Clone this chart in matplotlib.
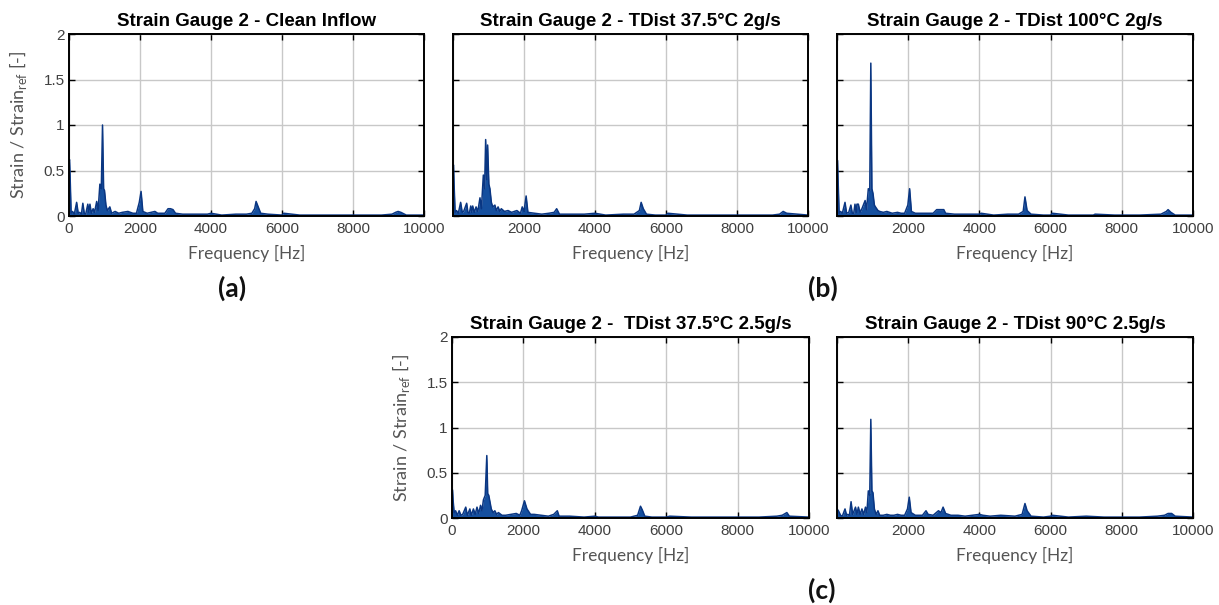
import numpy as np
import matplotlib
matplotlib.use("Agg")
import matplotlib.pyplot as plt

# --- spectra (frequency in Hz, normalised strain) ---
f_clean = [0, 15, 30, 60, 100, 150, 215, 260, 300, 350, 390, 430, 470, 530, 560, 590, 630, 680, 720,
           780, 820, 870, 910, 944, 975, 1000, 1040, 1080, 1150, 1200, 1300, 1400, 1500, 1660, 1800,
           1900, 1980, 2030, 2080, 2200, 2420, 2500, 2700, 2790, 2860, 2930, 3000, 3200, 3500, 3900,
           4000, 4300, 4700, 5000, 5150, 5230, 5270, 5330, 5400, 5600, 6000, 6050, 6500, 7000, 7600,
           8200, 8800, 9100, 9200, 9270, 9350, 9500, 10000]
a_clean = [0.60, 0.62, 0.45, 0.03, 0.05, 0.02, 0.15, 0.03, 0.04, 0.02, 0.14, 0.03, 0.02, 0.13, 0.04,
           0.13, 0.03, 0.08, 0.04, 0.16, 0.06, 0.35, 0.30, 1.00, 0.30, 0.28, 0.12, 0.06, 0.10, 0.03,
           0.05, 0.03, 0.04, 0.05, 0.03, 0.03, 0.15, 0.27, 0.05, 0.03, 0.05, 0.03, 0.03, 0.08, 0.08,
           0.07, 0.03, 0.02, 0.02, 0.02, 0.03, 0.01, 0.02, 0.02, 0.03, 0.08, 0.16, 0.10, 0.03, 0.02,
           0.01, 0.03, 0.01, 0.01, 0.01, 0.01, 0.01, 0.02, 0.04, 0.05, 0.04, 0.01, 0.01]

f_t375_2 = [0, 15, 30, 60, 100, 150, 215, 260, 300, 385, 420, 460, 500, 530, 555, 600, 650, 700, 760,
            800, 855, 890, 920, 950, 975, 1010, 1040, 1080, 1120, 1180, 1220, 1270, 1320, 1360, 1450,
            1550, 1650, 1800, 1900, 1950, 2000, 2060, 2110, 2300, 2500, 2700, 2850, 2920, 3000, 3300,
            3700, 4000, 4300, 4800, 5100, 5250, 5300, 5360, 5450, 5700, 6000, 6050, 6600, 7200, 7800,
            8400, 9000, 9200, 9300, 9400, 10000]
a_t375_2 = [0.55, 0.56, 0.35, 0.04, 0.06, 0.03, 0.15, 0.04, 0.05, 0.14, 0.04, 0.03, 0.11, 0.04, 0.11,
            0.04, 0.10, 0.05, 0.20, 0.08, 0.45, 0.30, 0.84, 0.40, 0.78, 0.35, 0.30, 0.15, 0.10, 0.12,
            0.06, 0.10, 0.05, 0.08, 0.05, 0.06, 0.04, 0.06, 0.03, 0.10, 0.05, 0.22, 0.04, 0.03, 0.02,
            0.03, 0.04, 0.08, 0.02, 0.02, 0.02, 0.03, 0.01, 0.02, 0.02, 0.06, 0.15, 0.08, 0.02, 0.01,
            0.01, 0.03, 0.01, 0.01, 0.01, 0.01, 0.01, 0.02, 0.05, 0.03, 0.01]

f_t100_2 = [0, 15, 30, 60, 100, 150, 225, 270, 330, 390, 430, 470, 505, 540, 560, 600, 650, 700, 790,
            830, 880, 920, 950, 980, 1010, 1050, 1080, 1150, 1200, 1300, 1400, 1550, 1700, 1800, 1900,
            1990, 2040, 2090, 2200, 2500, 2700, 2800, 2870, 3000, 3050, 3300, 3700, 4000, 4050, 4400,
            4800, 5100, 5230, 5280, 5340, 5450, 5800, 6000, 6050, 6500, 7200, 7250, 7800, 8500, 9100,
            9250, 9300, 9380, 9500, 10000]
a_t100_2 = [0.60, 0.61, 0.40, 0.03, 0.05, 0.03, 0.15, 0.03, 0.04, 0.12, 0.03, 0.03, 0.13, 0.04, 0.13,
            0.13, 0.04, 0.08, 0.17, 0.07, 0.30, 0.28, 1.68, 0.30, 0.25, 0.12, 0.10, 0.06, 0.05, 0.04,
            0.05, 0.03, 0.04, 0.03, 0.03, 0.12, 0.30, 0.05, 0.03, 0.03, 0.03, 0.07, 0.07, 0.07, 0.03,
            0.02, 0.02, 0.02, 0.03, 0.01, 0.02, 0.02, 0.05, 0.21, 0.06, 0.02, 0.01, 0.01, 0.03, 0.01,
            0.01, 0.02, 0.01, 0.01, 0.02, 0.05, 0.07, 0.04, 0.01, 0.01]

f_t375_25 = [0, 15, 30, 60, 100, 150, 200, 250, 300, 385, 430, 500, 540, 600, 650, 700, 750, 800,
             840, 880, 930, 975, 1000, 1030, 1100, 1150, 1200, 1250, 1300, 1400, 1500, 1650, 1800,
             1900, 1950, 2030, 2100, 2200, 2300, 2500, 2700, 2850, 2950, 3000, 3300, 3700, 4000, 4100,
             4500, 5000, 5200, 5280, 5330, 5400, 5600, 6000, 6100, 6700, 7300, 8000, 8600, 9100, 9250,
             9380, 9450, 10000]
a_t375_25 = [0.31, 0.31, 0.20, 0.06, 0.08, 0.03, 0.08, 0.03, 0.04, 0.12, 0.03, 0.10, 0.03, 0.10, 0.04,
             0.12, 0.05, 0.14, 0.08, 0.20, 0.25, 0.69, 0.27, 0.25, 0.10, 0.06, 0.08, 0.04, 0.06, 0.03,
             0.03, 0.04, 0.05, 0.03, 0.08, 0.19, 0.10, 0.04, 0.04, 0.03, 0.02, 0.04, 0.08, 0.02, 0.02,
             0.01, 0.02, 0.01, 0.01, 0.01, 0.03, 0.13, 0.09, 0.02, 0.01, 0.01, 0.02, 0.01, 0.01, 0.01,
             0.01, 0.02, 0.03, 0.06, 0.02, 0.01]

f_t90_25 = [0, 40, 100, 150, 225, 270, 300, 350, 395, 440, 520, 560, 600, 650, 700, 750, 800, 840,
            880, 920, 950, 980, 1010, 1050, 1100, 1150, 1200, 1300, 1400, 1500, 1600, 1700, 1800, 1900,
            1980, 2030, 2080, 2200, 2400, 2500, 2560, 2700, 2850, 2920, 2980, 3050, 3200, 3400, 3600,
            3800, 4000, 4100, 4300, 4600, 5000, 5200, 5280, 5340, 5450, 5800, 6000, 6050, 6500, 7000,
            7500, 8000, 8500, 9000, 9200, 9300, 9400, 9500, 10000]
a_t90_25 = [0.10, 0.08, 0.03, 0.02, 0.10, 0.03, 0.04, 0.03, 0.18, 0.04, 0.12, 0.04, 0.12, 0.04, 0.10,
            0.04, 0.12, 0.06, 0.30, 0.25, 1.09, 0.30, 0.28, 0.10, 0.04, 0.08, 0.03, 0.03, 0.04, 0.03,
            0.03, 0.04, 0.03, 0.03, 0.10, 0.23, 0.06, 0.03, 0.03, 0.08, 0.04, 0.03, 0.08, 0.06, 0.12,
            0.05, 0.03, 0.03, 0.02, 0.03, 0.04, 0.03, 0.02, 0.03, 0.02, 0.04, 0.16, 0.08, 0.02, 0.01,
            0.02, 0.03, 0.01, 0.02, 0.01, 0.01, 0.01, 0.02, 0.03, 0.05, 0.05, 0.02, 0.01]

titles = ["Strain Gauge 2 - Clean Inflow",
          "Strain Gauge 2 - TDist 37.5°C 2g/s",
          "Strain Gauge 2 - TDist 100°C 2g/s",
          "Strain Gauge 2 -  TDist 37.5°C 2.5g/s",
          "Strain Gauge 2 - TDist 90°C 2.5g/s"]
series = [(f_clean, a_clean), (f_t375_2, a_t375_2), (f_t100_2, a_t100_2),
          (f_t375_25, a_t375_25), (f_t90_25, a_t90_25)]

W, H = 1219, 605
fig = plt.figure(figsize=(W / 100, H / 100), dpi=100)


def px(x, y):
    return x / W, 1 - y / H


# axes boxes in pixels: left, top, right, bottom
boxes = [(69, 34, 424, 216), (453, 34, 808, 216), (837, 34, 1193, 216),
         (452, 337, 809, 518), (837, 337, 1193, 518)]
show_y = [True, False, False, True, False]
show_x0 = [True, False, False, True, False]

line_col = "#0a3682"
fill_col = "#154f9e"
tick_col = "#404040"

for i, (l, t, r, b) in enumerate(boxes):
    ax = fig.add_axes([l / W, 1 - b / H, (r - l) / W, (b - t) / H])
    f, a = series[i]
    ax.fill_between(f, 0, a, color=fill_col, lw=0)
    ax.plot(f, a, color=line_col, lw=1.1)
    ax.set_xlim(0, 10000)
    ax.set_ylim(0, 2)
    ax.set_xticks([0, 2000, 4000, 6000, 8000, 10000])
    ax.set_yticks([0, 0.5, 1, 1.5, 2])
    ax.grid(True, color="#c8c8c8", lw=1)
    ax.set_axisbelow(True)
    ax.tick_params(direction="in", top=True, right=True, length=4, width=1,
                   labelsize=11, labelcolor=tick_col)
    ax.tick_params(axis="x", pad=4)
    ax.tick_params(axis="y", pad=3)
    if show_x0[i]:
        ax.set_xticklabels(["0", "2000", "4000", "6000", "8000", "10000"])
    else:
        ax.set_xticklabels(["", "2000", "4000", "6000", "8000", "10000"])
    if show_y[i]:
        ax.set_yticklabels(["0", "0.5", "1", "1.5", "2"])
    else:
        ax.set_yticklabels([])
    for lab in ax.get_xticklabels() + ax.get_yticklabels():
        lab.set_family("Liberation Sans")
    for s in ax.spines.values():
        s.set_linewidth(1.4)
    ax.set_title(titles[i], fontsize=13.5, fontweight="bold", family="Liberation Sans", pad=6)
    # x label
    cx = (l + r) / 2
    fig.text(*px(cx, b + 37), "Frequency [Hz]", ha="center", va="center",
             fontsize=12.5, color="#555555", family="Lato")
    if show_y[i]:
        fig.text(*px(l - 51, (t + b) / 2), "Strain / Strain$_\\mathregular{ref}$ [-]",
                 rotation=90, ha="center", va="center", fontsize=13,
                 color="#555555", family="Lato")

for txt, x, y in [("(a)", 232, 288), ("(b)", 823, 288), ("(c)", 822, 590)]:
    fig.text(*px(x, y), txt, ha="center", va="center", fontsize=19,
             fontweight="bold", family="Lato", color="#111111")

fig.savefig("out.png", dpi=100)
